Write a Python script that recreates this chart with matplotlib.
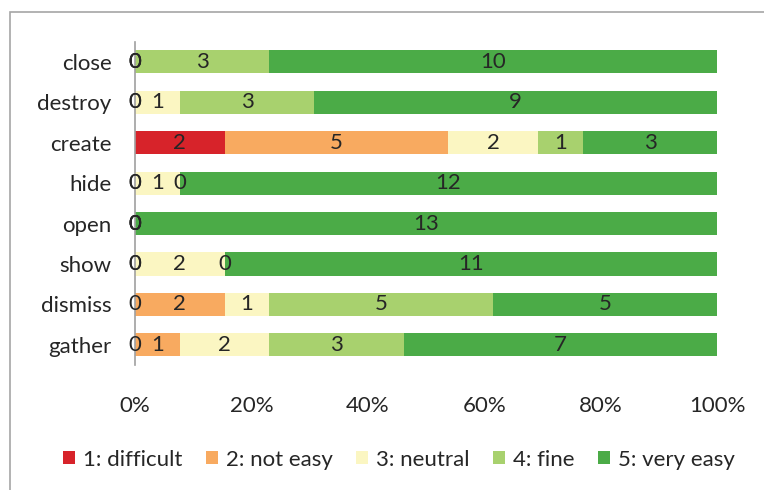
import numpy as np
import matplotlib.pyplot as plt
from matplotlib.patches import Rectangle

plt.rcParams['font.family'] = ['Lato', 'DejaVu Sans']

tasks = ["close", "destroy", "create", "hide", "open", "show", "dismiss", "gather"]
ratings = ["1: difficult", "2: not easy", "3: neutral", "4: fine", "5: very easy"]
colors = ["#D7232A", "#F8AA60", "#FBF6C2", "#A8D16E", "#4BAB47"]

difficult = [0, 0, 2, 0, 0, 0, 0, 0]
not_easy = [0, 0, 5, 0, 0, 0, 2, 1]
neutral = [0, 1, 2, 1, 0, 2, 1, 2]
fine = [3, 3, 1, 0, 0, 0, 5, 3]
very_easy = [10, 9, 3, 12, 13, 11, 5, 7]

counts = np.array([difficult, not_easy, neutral, fine, very_easy], dtype=float)
share = counts / counts.sum(axis=0)

fs = 16

fig = plt.figure(figsize=(7.64, 4.9), dpi=100)
ax = fig.add_axes([0.1767, 0.255, 0.762, 0.66])

y = np.arange(len(tasks))
left = np.zeros(len(tasks))
for i in range(len(ratings)):
    ax.barh(y, share[i], left=left, height=0.57, color=colors[i], label=ratings[i])
    for j in range(len(tasks)):
        ax.text(left[j] + share[i][j] / 2, y[j], "%d" % counts[i][j],
                ha="center", va="center", fontsize=fs, color="#262626")
    left += share[i]

ax.set_xlim(0, 1)
ax.set_ylim(len(tasks) - 0.5, -0.5)
ax.set_yticks(y)
ax.set_yticklabels(tasks)
ax.set_xticks(np.linspace(0, 1, 6))
ax.set_xticklabels(["0%", "20%", "40%", "60%", "80%", "100%"])
ax.tick_params(axis="both", length=0, labelsize=fs, colors="#262626")
ax.tick_params(axis="x", pad=22)
ax.tick_params(axis="y", pad=17)
for s in ["top", "right", "bottom"]:
    ax.spines[s].set_visible(False)
ax.spines["left"].set_color("#A0A0A0")
ax.spines["left"].set_linewidth(1.2)

fig.legend(loc="center", bbox_to_anchor=(0.522, 0.062), ncol=5, frameon=False,
           fontsize=fs, handlelength=0.55, handleheight=0.55, handletextpad=0.35,
           columnspacing=1.05, labelcolor="#262626")

# chart frame, running off the right and bottom edges
fig.patches.append(Rectangle((0.013, -0.05), 1.1, 1.0255, transform=fig.transFigure,
                             fill=False, edgecolor="#A6A6A6", linewidth=1.2))

fig.savefig("out.png", dpi=100)
